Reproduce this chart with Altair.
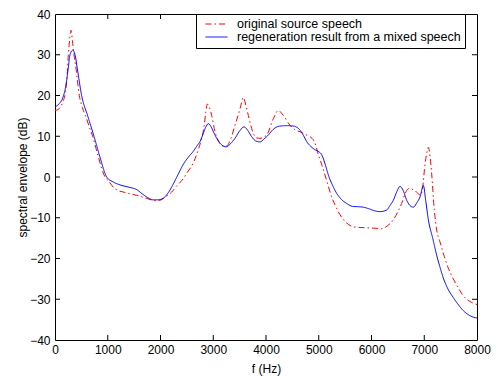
import altair as alt
import pandas as pd

series_names = ["original source speech", "regeneration result from a mixed speech"]

orig_f = [0, 80, 150, 200, 230, 253, 280, 305, 330, 360, 400, 461, 520, 580, 650, 714, 820, 948,
          1010, 1137, 1327, 1548, 1706, 1900, 1990, 2100, 2212, 2300, 2401, 2508, 2622, 2717,
          2780, 2825, 2860, 2888, 2930, 2970, 3033, 3100, 3180, 3250, 3330, 3412, 3507, 3570,
          3620, 3665, 3760, 3820, 3886, 4013, 4139, 4234, 4329, 4455, 4550, 4645, 4750, 4834,
          4929, 4992, 5055, 5150, 5245, 5300, 5400, 5520, 5655, 5800, 5972, 6100, 6193, 6300,
          6414, 6500, 6572, 6640, 6698, 6750, 6800, 6856, 6930, 6970, 7014, 7050, 7078, 7110,
          7141, 7190, 7236, 7300, 7380, 7457, 7550, 7646, 7720, 7804, 7900, 8000]
orig_db = [16.3, 16.8, 18.5, 21.0, 25.0, 30.0, 34.0, 36.0, 33.5, 30.0, 26.5, 20.0, 17.0, 15.0, 12.3, 10.0, 5.0, 0.0,
           -0.9, -2.9, -3.8, -4.5, -5.1, -5.8, -5.7, -4.8, -3.7, -2.3, -0.9, 1.1, 3.5, 6.7,
           9.5, 12.3, 16.0, 17.9, 17.0, 15.1, 11.1, 8.8, 7.6, 7.6, 9.3, 12.7, 16.7, 19.5,
           17.5, 15.1, 10.7, 9.6, 9.5, 10.3, 14.3, 16.3, 15.1, 12.7, 11.6, 11.1, 10.4, 9.9,
           8.3, 5.5, 3.1, -0.9, -4.9, -6.6, -9.2, -11.2, -12.2, -12.4, -12.5, -12.6, -12.7, -12.0,
           -10.5, -8.5, -6.5, -4.0, -2.9, -2.8, -3.3, -3.7, -4.5, -2.5, 3.1, 6.0, 7.3, 5.0,
           0.7, -8.0, -13.0, -16.0, -19.5, -22.4, -25.0, -27.2, -28.8, -30.0, -30.8, -31.3]

regen_f = [0, 80, 150, 200, 250, 284, 335, 379, 430, 505, 620, 739, 850, 980, 1100, 1250, 1400,
           1550, 1650, 1750, 1860, 1950, 2053, 2150, 2243, 2340, 2432, 2530, 2622, 2700, 2749,
           2800, 2860, 2907, 2960, 3010, 3065, 3150, 3242, 3330, 3412, 3500, 3583, 3650, 3728,
           3800, 3886, 3960, 4044, 4130, 4265, 4400, 4518, 4645, 4710, 4771, 4850, 4929, 5000,
           5055, 5120, 5182, 5260, 5340, 5430, 5529, 5640, 5750, 5845, 5950, 6060, 6161, 6288,
           6350, 6414, 6480, 6540, 6600, 6667, 6730, 6793, 6860, 6919, 6983, 7030, 7078, 7160,
           7236, 7300, 7362, 7450, 7551, 7650, 7741, 7850, 7931, 8000]
regen_db = [17.2, 18.0, 19.5, 22.0, 26.5, 30.0, 31.1, 30.0, 26.0, 20.0, 15.0, 10.0, 5.0, 0.0, -1.2, -2.0, -2.5,
            -3.1, -4.1, -5.0, -5.6, -5.6, -5.2, -3.8, -1.7, 0.8, 3.1, 4.9, 6.3, 7.8, 8.7,
            10.3, 12.3, 13.1, 12.3, 10.9, 9.5, 8.0, 7.4, 8.2, 9.5, 11.3, 12.3, 11.5, 9.9,
            8.9, 8.6, 9.3, 10.3, 11.6, 12.5, 12.6, 12.5, 11.5, 10.2, 8.7, 7.5, 6.7, 6.2,
            5.5, 3.2, 0.5, -2.0, -4.0, -5.5, -6.5, -7.2, -7.3, -7.4, -7.8, -8.3, -8.5, -8.1,
            -7.0, -5.7, -3.6, -2.3, -3.3, -5.7, -7.0, -7.4, -6.3, -4.9, -2.1, -6.0, -10.5, -15.0,
            -19.2, -22.2, -24.8, -27.5, -29.6, -31.4, -32.8, -33.9, -34.4, -34.6]

x_ticks = [0, 1000, 2000, 3000, 4000, 5000, 6000, 7000, 8000]
y_ticks = [-40, -30, -20, -10, 0, 10, 20, 30, 40]
line_colors = ["#ff0000", "#0000ff"]
line_dashes = [[6, 3, 1.5, 3], [1, 0]]

W, H = 422, 326
FONT = "Liberation Sans"

df = pd.concat([
    pd.DataFrame({"f": orig_f, "db": orig_db, "series": series_names[0]}),
    pd.DataFrame({"f": regen_f, "db": regen_db, "series": series_names[1]}),
], ignore_index=True)

x_scale = alt.Scale(domain=[0, 8000], nice=False, zero=False)
y_scale = alt.Scale(domain=[-40, 40], nice=False, zero=False)

x_axis = alt.Axis(title="f (Hz)", values=x_ticks, format="d", tickSize=0, domain=False, grid=False,
                  labelPadding=4, titlePadding=8, labelFont=FONT, labelFontSize=12,
                  labelColor="black", titleFont=FONT, titleFontSize=12,
                  titleFontWeight="normal", titleColor="black", labelFlush=False)
y_axis = alt.Axis(title="spectral envelope (dB)", values=y_ticks, format="d", tickSize=0, domain=False,
                  grid=False, labelPadding=5, titlePadding=0, labelFont=FONT,
                  labelFontSize=12, labelColor="black", titleFont=FONT, titleFontSize=12,
                  titleFontWeight="normal", titleColor="black", labelFlush=False)

legend_kw = dict(
    title=None, orient="none", legendX=141, legendY=0,
    strokeColor="black", fillColor="white", padding=4, symbolOffset=5,
    labelFont=FONT, labelFontSize=12.5, labelColor="black", labelOffset=9,
    symbolType="stroke", symbolSize=484, symbolStrokeWidth=1, clipHeight=12,
    rowPadding=0, labelLimit=400,
)

lines = alt.Chart(df).mark_line(strokeWidth=1, interpolate="monotone").encode(
    x=alt.X("f:Q", scale=x_scale, axis=x_axis),
    y=alt.Y("db:Q", scale=y_scale, axis=y_axis),
    color=alt.Color("series:N", scale=alt.Scale(domain=series_names, range=line_colors),
                    legend=alt.Legend(**legend_kw)),
    strokeDash=alt.StrokeDash("series:N", scale=alt.Scale(domain=series_names, range=line_dashes),
                              legend=alt.Legend(**legend_kw)),
)

yt = pd.DataFrame({"v": y_ticks[1:-1]})
xt = pd.DataFrame({"v": x_ticks[1:-1]})
TL = 5
left_t = alt.Chart(yt).mark_rule(color="black", strokeWidth=1).encode(
    y=alt.Y("v:Q", scale=y_scale, axis=y_axis), x=alt.value(0), x2=alt.value(TL))
right_t = alt.Chart(yt).mark_rule(color="black", strokeWidth=1).encode(
    y=alt.Y("v:Q", scale=y_scale, axis=y_axis), x=alt.value(W - TL), x2=alt.value(W))
bottom_t = alt.Chart(xt).mark_rule(color="black", strokeWidth=1).encode(
    x=alt.X("v:Q", scale=x_scale, axis=x_axis), y=alt.value(H - TL), y2=alt.value(H))
top_t = alt.Chart(xt).mark_rule(color="black", strokeWidth=1).encode(
    x=alt.X("v:Q", scale=x_scale, axis=x_axis), y=alt.value(0), y2=alt.value(TL))

chart = alt.layer(lines, left_t, right_t, bottom_t, top_t).properties(
    width=W, height=H,
    autosize=alt.AutoSizeParams(type="none"),
    padding={"left": 47, "top": 6, "right": 14, "bottom": 36},
    background="white",
).configure_view(stroke="black", strokeWidth=1)

chart.save("out.html", embed_options={"renderer": "svg", "actions": False})
